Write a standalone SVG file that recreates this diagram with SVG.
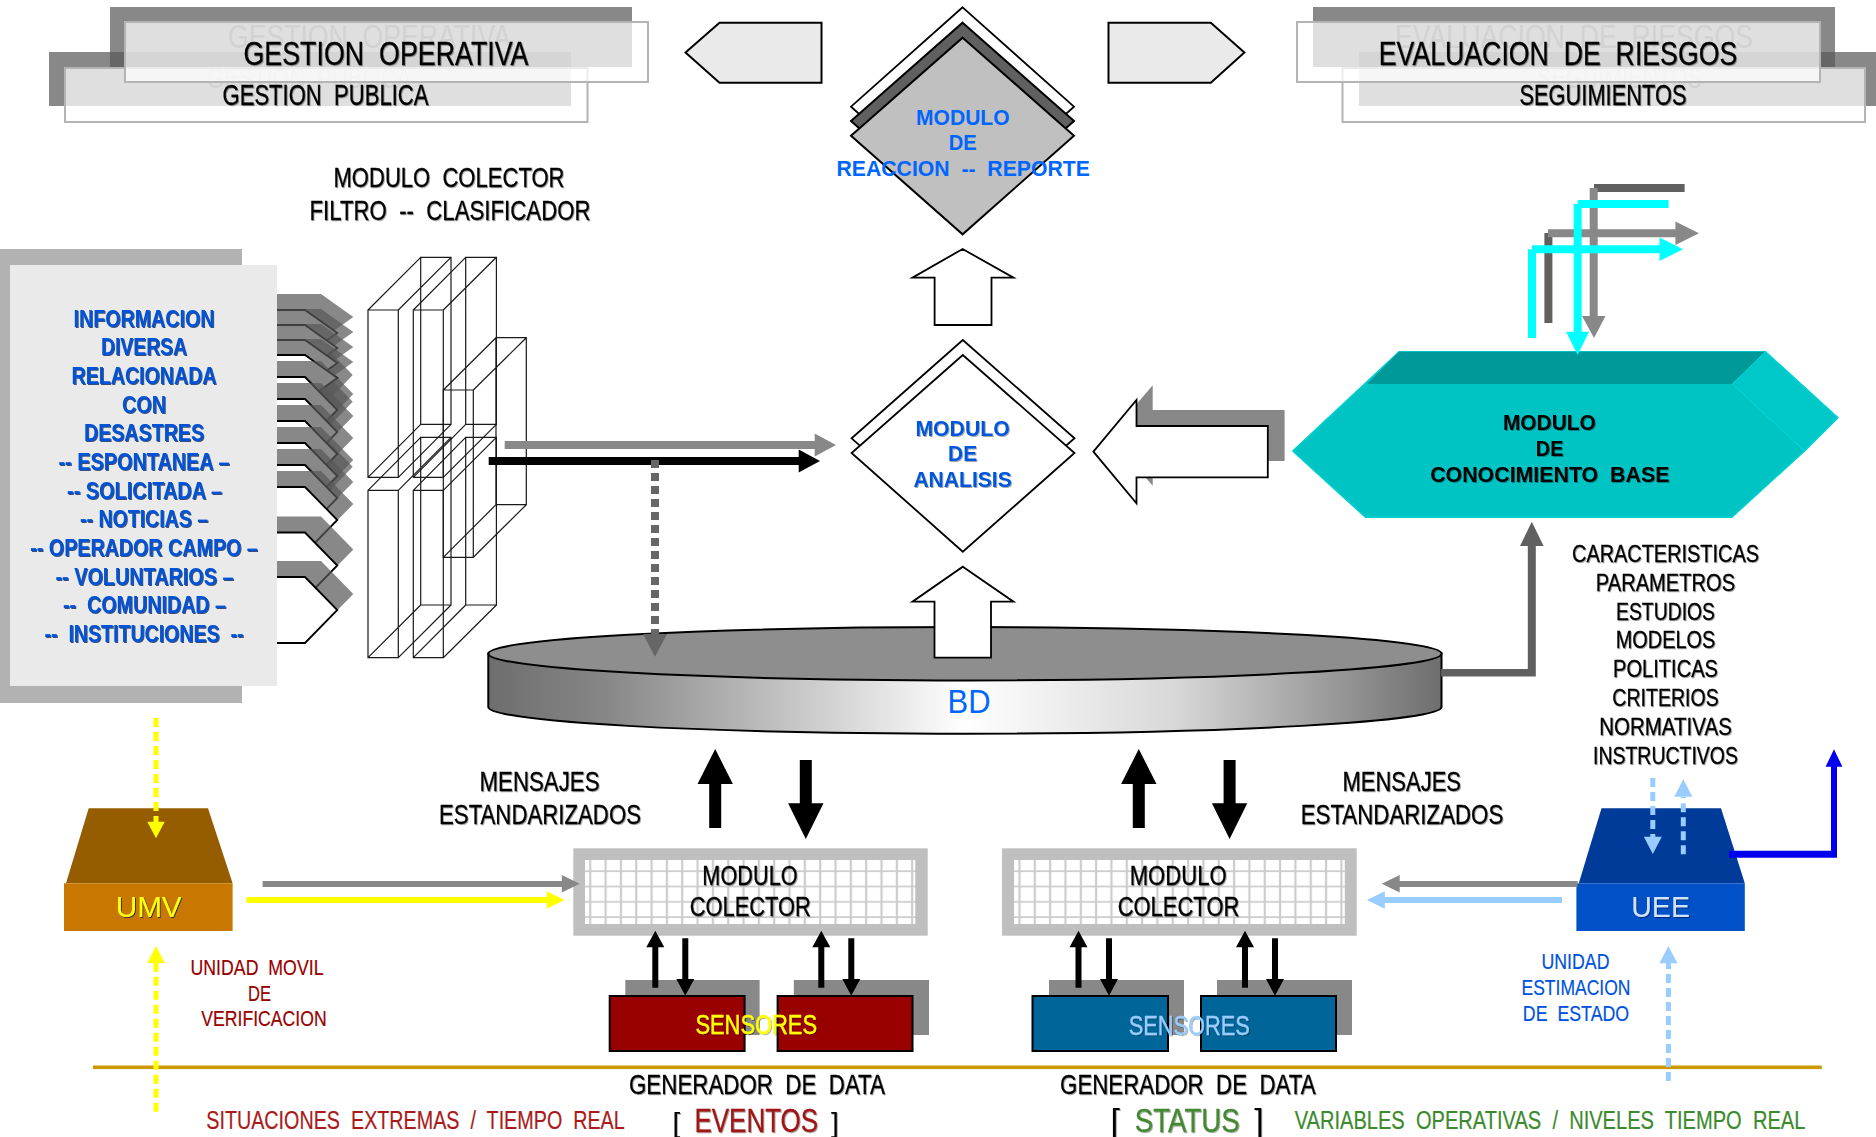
<svg xmlns="http://www.w3.org/2000/svg" width="1876" height="1137" viewBox="0 0 1876 1137">
<style>
text{font-family:"Liberation Sans Narrow","Liberation Sans",Arial,sans-serif;text-anchor:middle;white-space:pre;font-size:28px;fill:#000}
.b{font-family:"Liberation Sans",Arial,sans-serif;font-weight:bold;font-size:22px}
.sh{filter:url(#ts);stroke:#000;stroke-width:.3}
.info{font-family:"Liberation Sans",Arial,sans-serif;font-weight:bold;font-size:24.5px;fill:#0052d6;filter:url(#td)}
.ghost{fill:#585858}
.bk{fill:#585858;fill-opacity:.714}
.fr{fill:#fff;fill-opacity:.73;stroke:#b4b4b4;stroke-width:2}
.wire{fill:none;stroke:#1a1a1a;stroke-width:1.2}
.wh{fill:#fff;stroke:#000;stroke-width:1.8;stroke-linejoin:miter}
.red{fill:#990000;font-size:21.5px;stroke:#990000;stroke-width:.2}
.blue{fill:#0052dd;font-size:21.5px;stroke:#0052dd;stroke-width:.2}
.sen{fill:#888}
.t1{font-size:34px}
.t2{font-size:29px}
.t3{font-size:24.5px}
.t4{font-size:27px}
</style>
<defs>
<filter id="ts" x="-5%" y="-20%" width="110%" height="140%"><feDropShadow dx="1" dy="1" stdDeviation="0.4" flood-color="#000" flood-opacity=".35"/></filter>
<filter id="td" x="-5%" y="-20%" width="110%" height="140%"><feDropShadow dx="1" dy="1" stdDeviation="0.3" flood-color="#001a55" flood-opacity=".75"/></filter>
<linearGradient id="dbg" x1="0" x2="1" y1="0" y2="0"><stop offset="0" stop-color="#6e6e6e"/><stop offset=".12" stop-color="#868686"/><stop offset=".5" stop-color="#fff"/><stop offset=".72" stop-color="#d8d8d8"/><stop offset="1" stop-color="#6e6e6e"/></linearGradient>
<pattern id="gr" patternUnits="userSpaceOnUse" x="0" y="0" width="15.33" height="15.3"><rect width="15.33" height="15.3" fill="#fff"/><rect x="6.6" width="2.2" height="15.3" fill="#cccccc"/><rect y="13.6" width="15.33" height="2.2" fill="#cccccc"/></pattern>
<g id="pf"><polygon class="bk" points="270,-16 321,-16 353.3,17 321,50 270,50"/><polygon class="wh" points="270,0 305,0 337.3,33 305,66 270,66"/></g>
<g id="ps"><polygon class="bk" points="270,-16 321,-16 353.3,7 321,30 270,30"/><polygon class="wh" points="270,0 305,0 337.3,23 305,46 270,46"/></g>
<polygon id="bu" points="-6,79 -6,35 -17.7,35 0,0 17.7,35 6,35 6,79"/>
<polygon id="bd" points="-6,0 -6,43.3 -17.7,43.3 0,79 17.7,43.3 6,43.3 6,0"/>
<polygon id="su" points="-3,57 -3,16.6 -9,16.6 0,0 9,16.6 3,16.6 3,57"/>
<polygon id="sd" points="-3,0 -3,40.7 -9,40.7 0,57.4 9,40.7 3,40.7 3,0"/>
</defs>
<rect width="1876" height="1137" fill="#fff"/>

<g id="gestion">
<rect x="110" y="7" width="522" height="60" fill="#888"/>
<text class="ghost t1" x="369.5" y="48" textLength="283" lengthAdjust="spacingAndGlyphs">GESTION  OPERATIVA</text>
<rect class="bk" x="49" y="52" width="522" height="54"/>
<text class="ghost t2" x="309" y="88" textLength="204" lengthAdjust="spacingAndGlyphs">GESTION  PUBLICA</text>
<rect class="fr" x="65" y="68" width="522.5" height="54"/>
<rect class="fr" x="125" y="22" width="523" height="60"/>
<text class="sh t1" x="386" y="65" textLength="285" lengthAdjust="spacingAndGlyphs">GESTION  OPERATIVA</text>
<text class="sh t2" x="325.5" y="105" textLength="206" lengthAdjust="spacingAndGlyphs">GESTION  PUBLICA</text>
</g>
<g id="evaluacion">
<rect x="1313" y="7" width="522" height="60" fill="#888"/>
<text class="ghost t1" x="1574" y="48" textLength="358" lengthAdjust="spacingAndGlyphs">EVALUACION  DE  RIESGOS</text>
<rect class="bk" x="1359" y="52" width="517" height="54"/>
<text class="ghost t2" x="1619.5" y="88" textLength="165" lengthAdjust="spacingAndGlyphs">SEGUIMIENTOS</text>
<rect class="fr" x="1342.5" y="68" width="522.5" height="54"/>
<rect class="fr" x="1297" y="22" width="523" height="60"/>
<text class="sh t1" x="1558" y="65" textLength="358.5" lengthAdjust="spacingAndGlyphs">EVALUACION  DE  RIESGOS</text>
<text class="sh t2" x="1603" y="105" textLength="167" lengthAdjust="spacingAndGlyphs">SEGUIMIENTOS</text>
</g>
<g id="flecha-izq"><polygon points="685.5,52.5 719.5,22.7 821.5,22.7 821.5,82.7 719.5,82.7" fill="#eaeaea" stroke="#000" stroke-width="2"/></g>
<g id="flecha-der"><polygon points="1108.5,22.7 1210.8,22.7 1244.4,52.5 1210.8,82.7 1108.5,82.7" fill="#eaeaea" stroke="#000" stroke-width="2"/></g>

<g id="modulo-reaccion">
<polygon class="wh" points="962.6,7.3 1074,106.7 962.6,206 851,106.7"/>
<polygon points="962.6,22.7 1074,121 962.6,220 851,121" fill="#606060" stroke="#000" stroke-width="2"/>
<polygon points="962.6,37.7 1074,135.7 962.6,234.3 851,135.7" fill="#c0c0c0" stroke="#000" stroke-width="2"/>
<text class="b" x="962.8" y="125" style="fill:#0066ff" textLength="93.6" lengthAdjust="spacingAndGlyphs">MODULO</text>
<text class="b" x="962.8" y="150" style="fill:#0066ff" textLength="28" lengthAdjust="spacingAndGlyphs">DE</text>
<text class="b" x="963.2" y="175.5" style="fill:#0066ff" textLength="253.4" lengthAdjust="spacingAndGlyphs">REACCION  --  REPORTE</text>
</g>

<g id="modulo-colector-texto">
<text class="sh" x="449" y="187" textLength="231" lengthAdjust="spacingAndGlyphs">MODULO  COLECTOR</text>
<text class="sh" x="450" y="220" textLength="281" lengthAdjust="spacingAndGlyphs">FILTRO  --  CLASIFICADOR</text>
</g>

<g id="fuentes">
<polygon class="bk" points="270,342 321,342 352.7,375 321,408 270,408"/>
<polygon class="bk" points="270,368.7 321,368.7 352.7,401.7 321,434.7 270,434.7"/>
<polygon class="bk" points="270,433.7 321,433.7 352.7,466.7 321,499.7 270,499.7"/>
<use href="#ps" y="310"/><use href="#ps" y="325"/><use href="#ps" y="340"/><use href="#ps" y="355"/>
<use href="#pf" y="377"/><use href="#pf" y="399"/><use href="#pf" y="421"/><use href="#pf" y="443"/><use href="#pf" y="465"/><use href="#pf" y="487"/><use href="#pf" y="532.5"/><use href="#pf" y="577"/>
</g>

<g id="informacion">
<rect x="0" y="249" width="242" height="454" fill="#b2b2b2"/>
<rect x="10" y="265" width="267" height="421" fill="#eaeaea"/>
<text class="info" x="144" y="326.6" textLength="141" lengthAdjust="spacingAndGlyphs">INFORMACION</text>
<text class="info" x="144" y="355" textLength="86" lengthAdjust="spacingAndGlyphs">DIVERSA</text>
<text class="info" x="144" y="383.6" textLength="145" lengthAdjust="spacingAndGlyphs">RELACIONADA</text>
<text class="info" x="144" y="412.6" textLength="44" lengthAdjust="spacingAndGlyphs">CON</text>
<text class="info" x="144" y="441" textLength="120" lengthAdjust="spacingAndGlyphs">DESASTRES</text>
<text class="info" x="144" y="470" textLength="171" lengthAdjust="spacingAndGlyphs">-- ESPONTANEA –</text>
<text class="info" x="144.5" y="498.6" textLength="155" lengthAdjust="spacingAndGlyphs">-- SOLICITADA –</text>
<text class="info" x="144" y="527" textLength="128" lengthAdjust="spacingAndGlyphs">-- NOTICIAS –</text>
<text class="info" x="144" y="556" textLength="227.5" lengthAdjust="spacingAndGlyphs">-- OPERADOR CAMPO –</text>
<text class="info" x="144.5" y="584.6" textLength="178" lengthAdjust="spacingAndGlyphs">-- VOLUNTARIOS –</text>
<text class="info" x="144.5" y="613" textLength="163" lengthAdjust="spacingAndGlyphs">--  COMUNIDAD –</text>
<text class="info" x="144" y="641.6" textLength="199" lengthAdjust="spacingAndGlyphs">--  INSTITUCIONES  --</text>
</g>

<g id="filtros">
<path class="wire" d="M368,310H398.3V477.3H368ZM420.7,257.3H451V424.3H420.7ZM368,310L420.7,257.3M398.3,310L451,257.3M368,477.3L420.7,424.3M398.3,477.3L451,424.3"/>
<path class="wire" d="M413.3,310H443.3V477.3H413.3ZM465.7,257.3H496.4V424.3H465.7ZM413.3,310L465.7,257.3M443.3,310L496.4,257.3M413.3,477.3L465.7,424.3M443.3,477.3L496.4,424.3"/>
<path class="wire" d="M368,490.3H398.3V657.7H368ZM420.7,437.3H451V605H420.7ZM368,490.3L420.7,437.3M398.3,490.3L451,437.3M368,657.7L420.7,605M398.3,657.7L451,605"/>
<path class="wire" d="M413.3,490.3H443.3V657.7H413.3ZM465.7,437.3H496.4V605H465.7ZM413.3,490.3L465.7,437.3M443.3,490.3L496.4,437.3M413.3,657.7L465.7,605M443.3,657.7L496.4,605"/>
<path class="wire" d="M443.3,390H473.3V557.3H443.3ZM496,337.7H526.3V504.7H496ZM443.3,390L496,337.7M473.3,390L526.3,337.7M443.3,557.3L496,504.7M473.3,557.3L526.3,504.7"/>
</g>

<g id="bd">
<path d="M488.3,653.5V707A476.6,26.7 0 0 0 1441.5,707V653.5Z" fill="url(#dbg)" stroke="#000" stroke-width="2"/>
<ellipse cx="965" cy="653.7" rx="476.6" ry="26.7" fill="#8e8e8e" stroke="#000" stroke-width="2"/>
<text x="969" y="713" style="font-size:33px;fill:#0066ff" textLength="43" lengthAdjust="spacingAndGlyphs">BD</text>
</g>

<g id="modulo-analisis">
<polygon class="wh" points="962.8,340 1074.5,438.3 962.8,536.7 851.6,438.3"/>
<polygon class="wh" points="962.8,355 1074.5,453 962.8,551.7 851.6,453"/>
<text class="b" x="962.6" y="435.7" style="fill:#0055dd;filter:url(#ts)" textLength="94.4" lengthAdjust="spacingAndGlyphs">MODULO</text>
<text class="b" x="962.6" y="460.7" style="fill:#0055dd;filter:url(#ts)" textLength="29" lengthAdjust="spacingAndGlyphs">DE</text>
<text class="b" x="962.6" y="486.7" style="fill:#0055dd;filter:url(#ts)" textLength="98.4" lengthAdjust="spacingAndGlyphs">ANALISIS</text>
</g>

<g id="modulo-conocimiento">
<polygon points="1399,351.7 1765.5,351.7 1838,417.7 1804.5,451 1731.8,517.3 1365.5,517.3 1292.7,451" fill="#00c4c4" stroke="#00d0d0" stroke-width="1.5" style="stroke-linejoin:bevel"/>
<polygon points="1399,351.7 1765.5,351.7 1732.4,384 1366.8,384" fill="#009999"/>
<polygon points="1765.5,351.7 1838,417.7 1804.5,451 1732.4,384" fill="#00c8c8" stroke="#00dcdc" stroke-width="1"/>
<text class="b" x="1549.4" y="429.7" style="filter:url(#ts)" textLength="93" lengthAdjust="spacingAndGlyphs">MODULO</text>
<text class="b" x="1549.6" y="455.7" style="filter:url(#ts)" textLength="27.5" lengthAdjust="spacingAndGlyphs">DE</text>
<text class="b" x="1549.8" y="481.7" style="filter:url(#ts)" textLength="239.2" lengthAdjust="spacingAndGlyphs">CONOCIMIENTO  BASE</text>
</g>

<g id="lista">
<text class="sh t3" x="1665.5" y="562" textLength="187" lengthAdjust="spacingAndGlyphs">CARACTERISTICAS</text>
<text class="sh t3" x="1665.5" y="591.2" textLength="139.4" lengthAdjust="spacingAndGlyphs">PARAMETROS</text>
<text class="sh t3" x="1665.5" y="620" textLength="99" lengthAdjust="spacingAndGlyphs">ESTUDIOS</text>
<text class="sh t3" x="1665.5" y="648.2" textLength="99.7" lengthAdjust="spacingAndGlyphs">MODELOS</text>
<text class="sh t3" x="1665.5" y="677" textLength="105" lengthAdjust="spacingAndGlyphs">POLITICAS</text>
<text class="sh t3" x="1665.5" y="706.2" textLength="106.4" lengthAdjust="spacingAndGlyphs">CRITERIOS</text>
<text class="sh t3" x="1665.5" y="734.6" textLength="132.7" lengthAdjust="spacingAndGlyphs">NORMATIVAS</text>
<text class="sh t3" x="1665.5" y="763.5" textLength="145" lengthAdjust="spacingAndGlyphs">INSTRUCTIVOS</text>
</g>

<g id="mensajes-izq">
<text class="sh" x="539.5" y="791.2" textLength="120" lengthAdjust="spacingAndGlyphs">MENSAJES</text>
<text class="sh" x="540" y="823.5" textLength="202" lengthAdjust="spacingAndGlyphs">ESTANDARIZADOS</text>
</g>
<g id="mensajes-der">
<text class="sh" x="1401.7" y="791.2" textLength="118.6" lengthAdjust="spacingAndGlyphs">MENSAJES</text>
<text class="sh" x="1402" y="823.5" textLength="202.6" lengthAdjust="spacingAndGlyphs">ESTANDARIZADOS</text>
</g>

<g id="umv">
<polygon points="88.7,808.3 208,808.3 232.6,883.3 66,883.3" fill="#955c00"/>
<rect x="64" y="883.3" width="168.6" height="47.7" fill="#c87800"/>
<text x="148.7" y="916.5" style="font-size:30px;fill:#ffff00;filter:url(#td)" textLength="66" lengthAdjust="spacingAndGlyphs">UMV</text>
</g>
<g id="uee">
<polygon points="1601.5,808.3 1721,808.3 1744.8,883.3 1578.8,883.3" fill="#003b99"/>
<rect x="1576.4" y="883.3" width="168.4" height="47.7" fill="#0050c8"/>
<text x="1660.6" y="916.5" style="font-size:30px;fill:#cfe2ff;filter:url(#td)" textLength="58.7" lengthAdjust="spacingAndGlyphs">UEE</text>
</g>

<g id="colector-1">
<rect x="573.3" y="848.3" width="354.4" height="87.4" fill="#bfbfbf"/>
<rect x="585" y="860" width="330.3" height="64" fill="url(#gr)"/>
<text class="sh t4" x="750" y="884.7" textLength="95.3" lengthAdjust="spacingAndGlyphs">MODULO</text>
<text class="sh t4" x="750.3" y="916.4" textLength="121.3" lengthAdjust="spacingAndGlyphs">COLECTOR</text>
</g>
<g id="colector-2">
<rect x="1002" y="848.3" width="354.7" height="87.4" fill="#bfbfbf"/>
<rect x="1014" y="860" width="330.8" height="64" fill="url(#gr)"/>
<text class="sh t4" x="1178.2" y="884.7" textLength="97" lengthAdjust="spacingAndGlyphs">MODULO</text>
<text class="sh t4" x="1178.5" y="916.4" textLength="121.7" lengthAdjust="spacingAndGlyphs">COLECTOR</text>
</g>

<g id="sensores-1">
<rect class="sen" x="625.3" y="980" width="134.3" height="55"/>
<rect class="sen" x="793.8" y="980" width="135.2" height="55"/>
<rect x="609.7" y="996" width="134.9" height="55" fill="#990000" stroke="#000" stroke-width="2"/>
<rect x="777.6" y="996" width="134.9" height="55" fill="#990000" stroke="#000" stroke-width="2"/>
<text x="756.2" y="1033.5" style="font-size:28px;fill:#ffff00;stroke:#ffff00;stroke-width:.5;filter:url(#ts)" textLength="121.6" lengthAdjust="spacingAndGlyphs">SENSORES</text>
</g>
<g id="sensores-2">
<rect class="sen" x="1049" y="980" width="135" height="55"/>
<rect class="sen" x="1217" y="980" width="135" height="55"/>
<rect x="1032.5" y="996" width="135.5" height="55" fill="#006699" stroke="#000" stroke-width="2"/>
<rect x="1201" y="996" width="135" height="55" fill="#006699" stroke="#000" stroke-width="2"/>
<text x="1189.3" y="1035" style="font-size:28px;fill:#99ccff;stroke:#99ccff;stroke-width:.4;filter:url(#ts)" textLength="121.2" lengthAdjust="spacingAndGlyphs">SENSORES</text>
</g>

<g id="etiquetas">
<text class="red" x="257" y="974.8" textLength="133" lengthAdjust="spacingAndGlyphs">UNIDAD  MOVIL</text>
<text class="red" x="259.5" y="1000.8" textLength="23" lengthAdjust="spacingAndGlyphs">DE</text>
<text class="red" x="264" y="1025.8" textLength="125.3" lengthAdjust="spacingAndGlyphs">VERIFICACION</text>
<text class="blue" x="1575.5" y="969" textLength="68" lengthAdjust="spacingAndGlyphs">UNIDAD</text>
<text class="blue" x="1576" y="995" textLength="109" lengthAdjust="spacingAndGlyphs">ESTIMACION</text>
<text class="blue" x="1576" y="1020.7" textLength="106.3" lengthAdjust="spacingAndGlyphs">DE  ESTADO</text>
<text class="sh" x="757" y="1094" textLength="256" lengthAdjust="spacingAndGlyphs">GENERADOR  DE  DATA</text>
<text class="sh" x="1187.8" y="1094" textLength="255.4" lengthAdjust="spacingAndGlyphs">GENERADOR  DE  DATA</text>
<text x="415.5" y="1128.5" style="font-size:26px;fill:#aa1a1a;stroke:#aa1a1a;stroke-width:.2" textLength="418.5" lengthAdjust="spacingAndGlyphs">SITUACIONES  EXTREMAS  /  TIEMPO  REAL</text>
<text x="755" y="1131.5" style="font-size:34px;filter:url(#ts)"><tspan x="681" style="font-size:28px">[</tspan> <tspan x="757.5" dx="3.5" textLength="123.6" lengthAdjust="spacingAndGlyphs" style="fill:#a01414;stroke:#a01414;stroke-width:.3">EVENTOS</tspan> <tspan x="835" style="font-size:28px">]</tspan></text>
<text x="1188" y="1131.5" style="font-size:34px;filter:url(#ts)"><tspan x="1120" style="font-size:34px">[</tspan> <tspan x="1192" textLength="105" lengthAdjust="spacingAndGlyphs" style="fill:#448833;stroke:#448833;stroke-width:.3">STATUS</tspan> <tspan x="1259" style="font-size:34px">]</tspan></text>
<text x="1550" y="1128.5" style="font-size:26px;fill:#3b8a2c;stroke:#3b8a2c;stroke-width:.2" textLength="510.7" lengthAdjust="spacingAndGlyphs">VARIABLES  OPERATIVAS  /  NIVELES  TIEMPO  REAL</text>
</g>

<g id="connectors">
<rect x="93" y="1065.5" width="1728.8" height="3.6" fill="#cc9900"/>
<path d="M504.7,441H814.7V433.5L836,445L814.7,456.5V449H504.7Z" fill="#888"/>
<path d="M488.7,457H798.7V449.5L820,461L798.7,472.5V465H488.7Z" fill="#000"/>
<line x1="655" y1="460" x2="655" y2="634" stroke="#666" stroke-width="8" stroke-dasharray="8 5"/>
<polygon points="643,634 667,634 655,656.7" fill="#666"/>
<polygon class="wh" points="962.6,249 1013.5,277.7 991.5,277.7 991.5,325 934.6,325 934.6,277.7 912.5,277.7"/>
<polygon class="wh" points="962.8,566.7 1013.5,601.7 991,601.7 991,657.7 934.5,657.7 934.5,601.7 912.5,601.7"/>
<polygon points="1109.4,435.7 1152.7,385.3 1152.7,410 1284.6,410 1284.6,461 1152.7,461 1152.7,485.7" fill="#888"/>
<polygon class="wh" points="1093.4,451.7 1136.5,400 1136.5,426 1267.8,426 1267.8,477.3 1136.5,477.3 1136.5,503.3"/>
<path d="M1441,669H1527.8V546H1520L1531.8,521.7L1543.6,546H1535.8V676.5H1441Z" fill="#606060"/>
<rect x="1594" y="184" width="90.6" height="8" fill="#606060"/>
<rect x="1589.7" y="188" width="8" height="128" fill="#888"/>
<polygon points="1582,316 1605.5,316 1594,338" fill="#888"/>
<rect x="1544.4" y="233" width="8" height="90" fill="#606060"/>
<path d="M1548,229.3H1675.4V221.6L1699,233.3L1675.4,245V237.3H1548Z" fill="#888"/>
<path d="M1668.6,200H1577.7V204H1573.7V331.7H1566.1L1577.6,355L1589.1,331.7H1581.7V208H1668.6Z" fill="#00ffff"/>
<path d="M1528,338V249.3H1532V245.3H1659.5V237.6L1683,249.3L1659.5,261V253.3H1536V338Z" fill="#00ffff"/>
<use href="#bu" x="715.2" y="749"/><use href="#bd" x="805.8" y="760"/>
<use href="#bu" x="1138.8" y="749"/><use href="#bd" x="1229.6" y="760"/>
<use href="#su" x="655.3" y="930.7"/><use href="#sd" x="685.3" y="938.3"/>
<use href="#su" x="821.3" y="930.7"/><use href="#sd" x="851.3" y="938.3"/>
<use href="#su" x="1078.5" y="930.7"/><use href="#sd" x="1109" y="938.3"/>
<use href="#su" x="1245" y="930.7"/><use href="#sd" x="1275" y="938.3"/>
<line x1="156" y1="718" x2="156" y2="822" stroke="#ffff00" stroke-width="5" stroke-dasharray="9 5"/>
<polygon points="147.3,821.7 164.7,821.7 156,838.3" fill="#ffff00"/>
<line x1="156" y1="1111.7" x2="156" y2="963" stroke="#ffff00" stroke-width="5" stroke-dasharray="9 5"/>
<polygon points="147.3,963 164.7,963 156,945.7" fill="#ffff00"/>
<path d="M262.6,881H561.8V875L579.7,883.7L561.8,892.5V887H262.6Z" fill="#888"/>
<path d="M246.4,897H546.8V891.2L564.7,900L546.8,908.8V903H246.4Z" fill="#ffff00"/>
<path d="M1729,850.8H1831V766.7H1825.6L1834,749.3L1842.4,766.7H1837V857.8H1729Z" fill="#0000ee"/>
<line x1="1652.8" y1="778" x2="1652.8" y2="837" stroke="#99ccff" stroke-width="5" stroke-dasharray="9 5"/>
<polygon points="1643.8,836.7 1661.8,836.7 1652.8,854" fill="#99ccff"/>
<line x1="1683.3" y1="854.3" x2="1683.3" y2="797" stroke="#99ccff" stroke-width="5" stroke-dasharray="9 5"/>
<polygon points="1674.3,796.7 1692.3,796.7 1683.3,779.3" fill="#99ccff"/>
<path d="M1577.6,881H1399.7V875L1381.8,883.7L1399.7,892.5V887H1577.6Z" fill="#888"/>
<path d="M1562,897H1384.8V891.2L1366.9,900L1384.8,908.8V903H1562Z" fill="#99ccff"/>
<line x1="1668.4" y1="1081" x2="1668.4" y2="963" stroke="#99ccff" stroke-width="5" stroke-dasharray="9 5"/>
<polygon points="1659.4,963.3 1677.4,963.3 1668.4,946" fill="#99ccff"/>
</g>
</svg>
